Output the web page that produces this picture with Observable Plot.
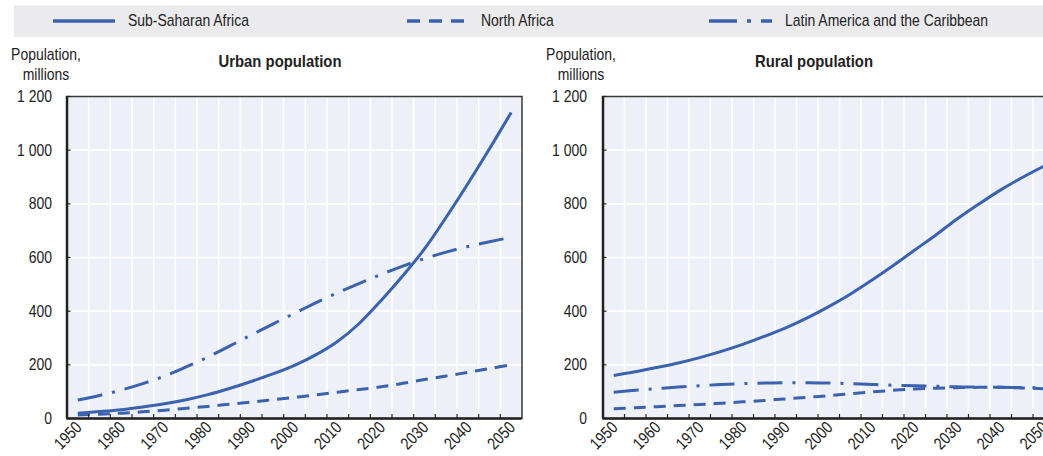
<!DOCTYPE html>
<html>
<head>
<meta charset="utf-8">
<script src="https://cdn.jsdelivr.net/npm/d3@7"></script>
<script src="https://cdn.jsdelivr.net/npm/@observablehq/plot@0.6"></script>
<style>
  html, body { margin: 0; padding: 0; }
  body { width: 1043px; height: 456px; overflow: hidden; position: relative; background: #fff;
         font-family: "Liberation Sans", Arial, sans-serif; color: #222; }
  .abs { position: absolute; }
  #legend { left: 14px; top: 5px; width: 1100px; height: 31.5px; background: #ebebee; }
  .lg { position: absolute; top: 0; height: 31.5px; display: flex; align-items: center; font-size: 17px; white-space: nowrap; }
  .lg span { position: absolute; display: inline-block; transform: scaleX(0.82); transform-origin: left center; }
  .ttl { font-weight: bold; font-size: 16.5px; white-space: nowrap; transform: translateX(-50%) scaleX(0.9); transform-origin: center; }
  .ylab { font-size: 17px; text-align: center; line-height: 19.5px; white-space: nowrap; transform: translateX(-50%) scaleX(0.82); transform-origin: center; }
  svg { max-width: none !important; }
</style>
</head>
<body>
<div id="legend" class="abs"></div>
<div class="abs ttl" style="left:280px; top:52px;">Urban population</div>
<div class="abs ttl" style="left:814px; top:52px;">Rural population</div>
<div class="abs ylab" style="left:46px; top:45px;">Population,<br>millions</div>
<div class="abs ylab" style="left:581px; top:45px;">Population,<br>millions</div>
<div id="left" class="abs" style="left:0px; top:86px;"></div>
<div id="right" class="abs" style="left:530px; top:86px;"></div>
<script>
const years = [1950,1955,1960,1965,1970,1975,1980,1985,1990,1995,2000,2005,2010,2015,2020,2025,2030,2035,2040,2045,2050];
const seriesNames = ["Sub-Saharan Africa", "North Africa", "Latin America and the Caribbean"];
const urbanSSA = [20,26,33,43,55,70,89,112,138,166,198,238,288,355,440,532,632,750,875,1005,1140];
const urbanNA  = [13,16,20,25,31,38,45,53,61,70,79,88,98,108,118,131,145,158,172,186,200];
const urbanLAC = [69,86,106,130,158,192,229,270,311,352,392,432,469,504,537,568,596,620,641,659,675];
const ruralSSA = [160,174,190,207,227,250,276,306,338,375,417,463,515,570,628,685,745,800,852,898,940];
const ruralNA  = [36,40,44,48,52,57,62,67,73,79,85,92,99,105,110,113,115,116,116,114,111];
const ruralLAC = [98,105,111,117,122,127,130,132,133,133,132,130,127,124,122,120,118,117,116,115,114];
const yTicks = [0,200,400,600,800,1000,1200];
const xLabels = [1950,1960,1970,1980,1990,2000,2010,2020,2030,2040,2050];

const blue = "#3a62ae";
const dashes = ["none", "12,8", "25,10,3,10"];
const legendDashes = ["none", "13,9", "28,10,4,10,11"];
const step = 5;
const xDomain = [years[0] - step/2, years[years.length-1] + step/2];
const bounds = years.slice(1).map(y => y - step/2);
const fmt = d3.formatLocale({thousands: "\u00a0", grouping: [3], decimal: "."}).format(",");

// legend
const legendPos = [[39, 113.7], [392.7, 467], [694.7, 770.7]];
const swatchW = [62, 60, 64];
const lg = document.getElementById("legend");
seriesNames.forEach((name, i) => {
  const item = document.createElement("div");
  item.className = "lg";
  item.style.left = legendPos[i][0] + "px";
  const w = swatchW[i];
  item.innerHTML = `<svg width="${w}" height="6" style="display:block"><line x1="0" x2="${w}" y1="3" y2="3" stroke="${blue}" stroke-width="3.4" stroke-dasharray="${legendDashes[i]}"/></svg>`;
  const t = document.createElement("span");
  t.textContent = name;
  t.style.left = (legendPos[i][1] - legendPos[i][0]) + "px";
  item.appendChild(t);
  lg.appendChild(item);
});

function panel(vals, opts) {
  const rows = vals.map((arr, s) => years.map((y, k) => ({year: y, value: arr[k], series: seriesNames[s]})));
  return Plot.plot({
    width: opts.width, height: 370,
    marginLeft: opts.ml, marginRight: opts.mr, marginTop: 10, marginBottom: 38,
    style: {fontFamily: '"Liberation Sans", Arial, sans-serif', fontSize: "17px", color: "#222", background: "transparent", overflow: "visible"},
    x: {domain: xDomain, axis: null},
    y: {domain: [0, 1200], axis: null},
    marks: [
      Plot.frame({fill: "#eef0f8", stroke: null}),
      Plot.ruleX(bounds, {stroke: "#fff", strokeWidth: 1.6}),
      Plot.ruleY(yTicks.slice(1, -1), {stroke: "#fff", strokeWidth: 1.6}),
      ...rows.map((r, s) => Plot.line(r, {x: "year", y: "value", stroke: blue, strokeWidth: 3, strokeDasharray: dashes[s], strokeLinecap: "butt", curve: "catmull-rom"})),
      Plot.frame({stroke: "#3a3a3a", strokeWidth: 1.5}),
      Plot.axisX({ticks: bounds, tickSize: -4, tickFormat: () => "", label: null, stroke: "#222", strokeWidth: 1.2}),
      Plot.axisY({ticks: yTicks, tickSize: -4, tickFormat: () => "", label: null, stroke: "#222", strokeWidth: 1.2}),
      Plot.ruleY([0], {stroke: "#222", strokeWidth: 2.5}),
      Plot.ruleX([xDomain[0]], {stroke: "#222", strokeWidth: 2.5}),
      Plot.axisY({ticks: yTicks, tickSize: 0, tickPadding: opts.tp, tickFormat: fmt, label: null, fill: "#222"}),
      Plot.text(xLabels, {x: d => d, frameAnchor: "bottom", dy: 10, dx: 5, rotate: -45, textAnchor: "end", text: d => String(d), fill: "#222"})
    ]
  });
}

function condense(svg, k) {
  svg.querySelectorAll("text").forEach(t => {
    const L = t.getComputedTextLength();
    if (L > 0) {
      t.setAttribute("textLength", (L * k).toFixed(2));
      t.setAttribute("lengthAdjust", "spacingAndGlyphs");
    }
  });
}

const leftSvg = panel([urbanSSA, urbanNA, urbanLAC], {width: 530, ml: 66.5, mr: 8.5, tp: 15});
document.getElementById("left").appendChild(leftSvg);
condense(leftSvg, 0.82);
const rightSvg = panel([ruralSSA, ruralNA, ruralLAC], {width: 534, ml: 72.5, mr: 10, tp: 16});
document.getElementById("right").appendChild(rightSvg);
condense(rightSvg, 0.82);
</script>
</body>
</html>
